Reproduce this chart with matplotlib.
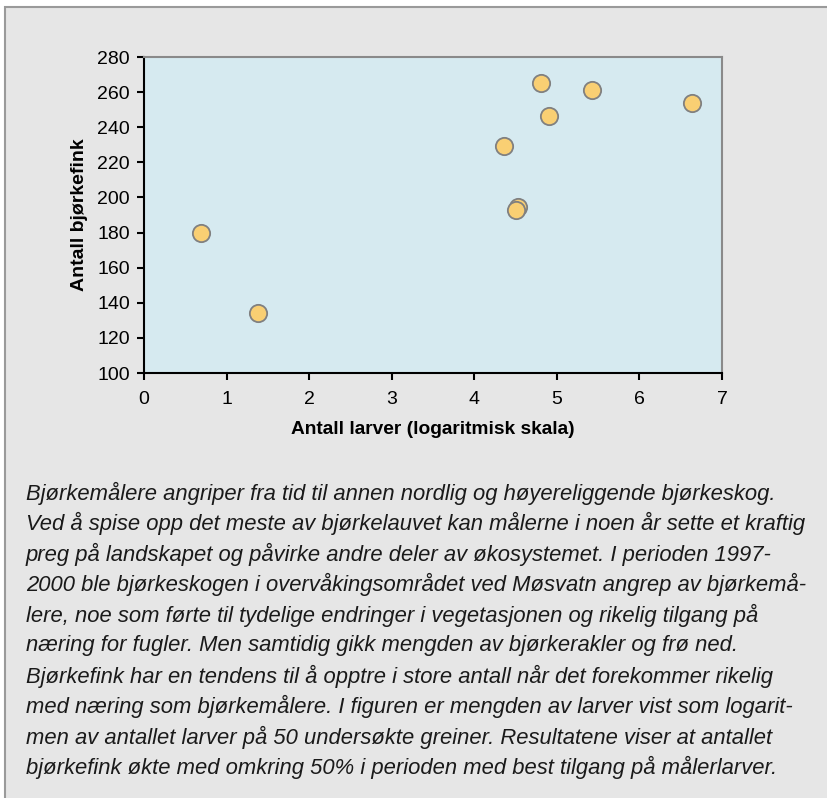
import matplotlib
matplotlib.use("Agg")
import matplotlib.pyplot as plt
from matplotlib.patches import Rectangle

# log of larvae counts vs number of brambling (bjørkefink)
larver = [0.69, 1.38, 4.36, 4.81, 4.90, 5.43, 6.64, 4.53, 4.505]
bjorkefink = [179.7, 134, 229.3, 265.3, 246.3, 261.3, 253.7, 194.4, 192.9]

xticks = [0, 1, 2, 3, 4, 5, 6, 7]
yticks = [100, 120, 140, 160, 180, 200, 220, 240, 260, 280]

caption = [
    "Bjørkemålere angriper fra tid til annen nordlig og høyereliggende bjørkeskog.",
    "Ved å spise opp det meste av bjørkelauvet kan målerne i noen år sette et kraftig",
    "preg på landskapet og påvirke andre deler av økosystemet. I perioden 1997-",
    "2000 ble bjørkeskogen i overvåkingsområdet ved Møsvatn angrep av bjørkemå-",
    "lere, noe som førte til tydelige endringer i vegetasjonen og rikelig tilgang på",
    "næring for fugler. Men samtidig gikk mengden av bjørkerakler og frø ned.",
    "Bjørkefink har en tendens til å opptre i store antall når det forekommer rikelig",
    "med næring som bjørkemålere. I figuren er mengden av larver vist som logarit-",
    "men av antallet larver på 50 undersøkte greiner. Resultatene viser at antallet",
    "bjørkefink økte med omkring 50% i perioden med best tilgang på målerlarver.",
]

plt.rcParams['font.family'] = ['Liberation Sans', 'DejaVu Sans']

W, H = 828, 798
fig = plt.figure(figsize=(W / 100, H / 100), dpi=100, facecolor='white')
fig.patches.append(Rectangle((5.5 / W, -0.1), 1.1, 1 - 7.5 / H + 0.1,
                             transform=fig.transFigure, facecolor='#e6e6e6',
                             edgecolor='#9a9a9a', linewidth=1.5, zorder=-10))

ax = fig.add_axes([144 / W, 1 - 373 / H, 578 / W, 316 / H])
ax.set_facecolor('#d6eaf0')
ax.scatter(larver, bjorkefink, s=155, c='#f9cf73', edgecolors='#808080',
           linewidths=1.3, zorder=3, clip_on=False)

ax.set_xlim(0, 7)
ax.set_ylim(100, 280)
ax.set_xticks(xticks)
ax.set_yticks(yticks)
ax.tick_params(labelsize=14, length=5, width=1.5, direction='out', pad=5)
ax.tick_params(axis='x', pad=8)
for s in ['left', 'bottom']:
    ax.spines[s].set_color('black')
    ax.spines[s].set_linewidth(1.5)
for s in ['top', 'right']:
    ax.spines[s].set_color('#8a8a8a')
    ax.spines[s].set_linewidth(1.5)

ax.set_xlabel('Antall larver (logaritmisk skala)', fontsize=13.8, fontweight='bold', labelpad=9)
ax.set_ylabel('Antall bjørkefink', fontsize=14, fontweight='bold', labelpad=7)

y0 = 493.3
for i, line in enumerate(caption):
    fig.text(26 / W, 1 - (y0 + i * 30.5) / H, line, fontsize=15.8, style='italic',
             ha='left', va='center', color='#1a1a1a')

fig.savefig('out.png', dpi=100, facecolor=fig.get_facecolor())
